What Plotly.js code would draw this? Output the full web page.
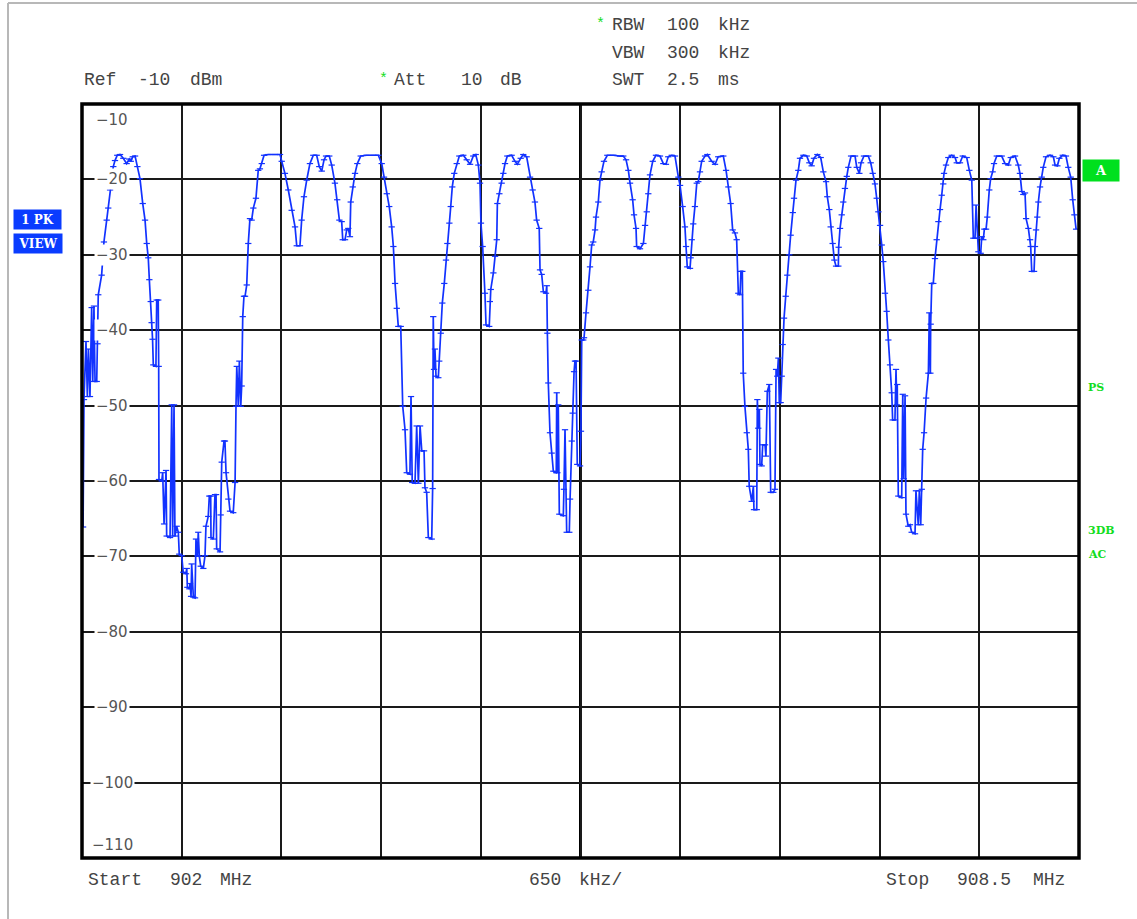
<!DOCTYPE html>
<html>
<head>
<meta charset="utf-8">
<script src="https://cdn.plot.ly/plotly-3.0.1.min.js"></script>
<style>
  html, body { margin: 0; padding: 0; background: #ffffff; }
  #chart { width: 1137px; height: 919px; }
</style>
</head>
<body>
<div id="chart"></div>
<script>
// Sweep settings
const sweepStartMHz = 902;
const sweepStopMHz = 908.5;
const spanPerDivMHz = 0.65;
const refLevelDbm = -10;
const bottomLevelDbm = -110;

// Trace 1 (peak detector), frequency in MHz
const freqMHz = [
  902.007,902.013,902.026,902.035,902.042,902.052,902.063,902.070,902.078,902.085,
  902.096,902.101,902.106,902.128,902.143,902.161,902.171,902.183,902.194,902.204,
  902.215,902.230,902.248,902.269,902.291,902.308,902.318,902.331,902.346,902.361,
  902.378,902.396,902.411,902.422,902.432,902.439,902.448,902.454,902.460,902.465,
  902.482,902.487,902.497,902.500,902.502,902.520,902.526,902.535,902.548,902.552,
  902.574,902.585,902.591,902.600,902.606,902.617,902.628,902.634,902.650,902.660,
  902.678,902.683,902.687,902.700,902.704,902.711,902.715,902.726,902.737,902.743,
  902.752,902.758,902.765,902.774,902.791,902.802,902.808,902.823,902.830,902.839,
  902.841,902.856,902.867,902.874,902.878,902.900,902.904,902.911,902.926,902.932,
  902.939,902.954,902.965,902.986,902.998,903.004,903.009,903.019,903.026,903.035,
  903.041,903.048,903.056,903.063,903.074,903.084,903.095,903.106,903.117,903.134,
  903.149,903.160,903.172,903.187,903.215,903.258,903.291,903.302,903.323,903.345,
  903.367,903.389,903.400,903.421,903.432,903.447,903.465,903.486,903.508,903.530,
  903.547,903.563,903.578,903.591,903.612,903.628,903.649,903.664,903.678,903.693,
  903.700,903.715,903.726,903.736,903.747,903.752,903.765,903.780,903.795,903.817,
  903.856,903.899,903.932,903.954,903.969,903.987,904.003,904.019,904.030,904.041,
  904.052,904.062,904.078,904.091,904.106,904.117,904.138,904.145,904.153,904.171,
  904.182,904.193,904.204,904.215,904.230,904.236,904.247,904.258,904.280,904.286,
  904.290,904.295,904.301,904.308,904.323,904.329,904.339,904.349,904.362,904.373,
  904.382,904.395,904.404,904.414,904.427,904.443,904.460,904.486,904.508,904.530,
  904.551,904.567,904.584,904.595,904.601,904.612,904.627,904.634,904.655,904.659,
  904.665,904.682,904.693,904.704,904.708,904.721,904.736,904.747,904.758,904.773,
  904.801,904.823,904.838,904.860,904.877,904.899,904.921,904.938,904.953,904.964,
  904.981,904.986,904.997,905.008,905.025,905.030,905.034,905.040,905.051,905.062,
  905.073,905.092,905.095,905.099,905.105,905.112,905.138,905.142,905.149,905.160,
  905.177,905.182,905.193,905.199,905.208,905.214,905.221,905.229,905.247,905.253,
  905.258,905.268,905.273,905.286,905.301,905.312,905.323,905.333,905.345,905.351,
  905.366,905.377,905.388,905.403,905.425,905.464,905.508,905.529,905.547,905.562,
  905.573,905.590,905.599,905.612,905.616,905.638,905.660,905.671,905.682,905.692,
  905.703,905.721,905.742,905.768,905.790,905.807,905.822,905.845,905.866,905.888,
  905.899,905.916,905.931,905.938,905.946,905.964,905.968,905.975,905.985,905.996,
  906.008,906.018,906.029,906.040,906.062,906.077,906.105,906.127,906.148,906.181,
  906.199,906.214,906.229,906.242,906.257,906.268,906.279,906.290,906.296,906.305,
  906.311,906.322,906.334,906.344,906.350,906.366,906.377,906.381,906.399,906.403,
  906.409,906.416,906.420,906.431,906.438,906.453,906.459,906.468,906.481,906.490,
  906.507,906.518,906.525,906.533,906.540,906.546,906.555,906.562,906.568,906.577,
  906.588,906.598,906.611,906.620,906.634,906.642,906.655,906.670,906.681,906.703,
  906.725,906.742,906.757,906.772,906.794,906.816,906.833,906.851,906.859,906.872,
  906.881,906.894,906.905,906.916,906.931,906.933,906.942,906.953,906.963,906.974,
  906.986,906.996,907.014,907.040,907.051,907.068,907.079,907.098,907.126,907.142,
  907.155,907.170,907.181,907.192,907.203,907.214,907.224,907.235,907.246,907.257,
  907.268,907.279,907.285,907.300,907.307,907.312,907.315,907.322,907.344,907.351,
  907.357,907.366,907.372,907.387,907.398,907.409,907.431,907.437,907.452,907.459,
  907.468,907.475,907.481,907.490,907.503,907.518,907.524,907.531,907.533,907.540,
  907.550,907.561,907.572,907.583,907.594,907.605,907.615,907.620,907.633,907.648,
  907.670,907.692,907.703,907.724,907.742,907.768,907.785,907.801,907.811,907.822,
  907.829,907.837,907.844,907.859,907.866,907.876,907.883,907.894,907.902,907.915,
  907.924,907.937,907.946,907.964,907.996,908.018,908.039,908.055,908.083,908.104,
  908.115,908.127,908.137,908.148,908.155,908.170,908.181,908.185,908.192,908.207,
  908.213,908.220,908.228,908.235,908.246,908.257,908.267,908.285,908.311,908.333,
  908.344,908.359,908.372,908.394,908.415,908.430,908.446,908.459,908.470,908.481
];

// Trace 1 level in dBm, one value per frequency point
const levelDbm = [
  -66.1,-49.2,-41.5,-48.8,-42.5,-48.8,-37.0,-46.8,-36.8,-46.8,
  -46.8,-41.8,-35.3,-32.7,-28.3,-25.4,-23.8,-21.4,-19.7,-18.3,
  -17.5,-16.8,-16.7,-17.2,-17.9,-17.3,-17.6,-17.0,-16.9,-18.3,
  -19.9,-23.2,-25.4,-28.5,-30.4,-33.3,-36.2,-39.0,-41.2,-44.6,
  -44.8,-36.0,-36.0,-44.8,-59.8,-60.0,-58.9,-65.7,-58.6,-67.3,
  -67.5,-49.9,-67.3,-49.9,-67.3,-66.0,-66.8,-69.7,-69.9,-72.1,
  -72.3,-71.6,-74.1,-74.3,-73.6,-75.3,-71.0,-75.4,-75.5,-67.7,
  -69.9,-66.8,-70.0,-71.3,-71.6,-69.9,-66.0,-64.7,-62.0,-62.0,
  -67.5,-67.7,-61.8,-61.8,-69.0,-69.4,-64.5,-57.5,-54.7,-54.7,
  -58.9,-62.4,-64.0,-64.2,-60.2,-50.1,-44.8,-50.1,-44.1,-50.1,
  -47.4,-38.2,-35.5,-35.5,-34.0,-28.5,-25.2,-25.4,-23.8,-22.5,
  -18.8,-18.6,-17.9,-16.8,-16.7,-16.7,-16.7,-17.6,-19.2,-21.4,
  -24.1,-26.3,-28.8,-28.8,-25.4,-22.3,-20.1,-17.9,-16.8,-16.8,
  -18.3,-18.9,-17.4,-16.9,-16.9,-18.1,-20.5,-22.7,-25.4,-25.6,
  -28.0,-28.0,-26.7,-26.5,-27.6,-23.0,-21.0,-19.2,-17.9,-16.9,
  -16.8,-16.8,-16.8,-17.9,-19.7,-21.9,-23.6,-26.3,-28.9,-33.8,
  -37.1,-39.5,-39.5,-50.1,-53.2,-58.9,-59.1,-48.8,-60.2,-60.3,
  -52.7,-60.3,-52.7,-56.0,-56.0,-60.9,-61.5,-67.5,-67.7,-61.0,
  -38.2,-45.2,-42.5,-46.1,-46.3,-44.1,-40.4,-36.4,-33.8,-30.7,
  -28.5,-25.8,-23.6,-21.0,-19.2,-17.9,-16.9,-16.8,-17.4,-18.0,
  -16.9,-16.7,-18.1,-20.5,-25.8,-28.9,-35.1,-39.3,-39.5,-36.2,
  -34.6,-32.4,-30.2,-28.0,-23.2,-21.9,-20.5,-19.2,-17.9,-16.9,
  -16.8,-17.6,-18.0,-17.2,-16.7,-17.0,-19.7,-21.4,-23.0,-25.4,
  -26.5,-32.0,-32.6,-34.9,-35.1,-34.1,-40.4,-47.0,-53.6,-56.3,
  -58.7,-58.9,-48.3,-58.9,-49.9,-64.4,-64.6,-61.1,-53.2,-66.8,
  -66.8,-62.4,-54.7,-51.0,-45.5,-44.1,-44.1,-57.8,-58.0,-53.4,
  -41.3,-41.3,-41.0,-37.7,-34.7,-31.6,-28.7,-28.3,-26.7,-25.0,
  -23.0,-20.1,-19.0,-17.6,-16.8,-16.8,-16.9,-16.9,-17.4,-18.8,
  -20.5,-22.7,-24.7,-26.5,-28.9,-29.2,-28.5,-26.1,-24.3,-21.9,
  -19.4,-17.6,-16.8,-16.9,-17.9,-18.0,-17.0,-16.8,-16.9,-19.7,
  -20.8,-23.6,-26.3,-28.9,-31.6,-31.8,-30.4,-28.0,-25.9,-23.6,
  -20.5,-20.3,-19.0,-17.6,-16.9,-16.7,-17.6,-18.0,-17.0,-16.9,
  -18.8,-21.0,-23.2,-26.7,-27.1,-28.0,-35.1,-35.3,-32.2,-32.2,
  -45.7,-50.1,-53.6,-55.8,-60.7,-62.7,-60.7,-63.8,-63.8,-49.2,
  -53.0,-50.5,-57.8,-58.0,-55.2,-55.2,-56.7,-48.1,-47.2,-61.5,
  -61.5,-61.1,-45.2,-46.1,-43.7,-49.6,-49.6,-46.1,-41.9,-38.4,
  -35.5,-32.7,-30.0,-27.4,-24.4,-22.5,-20.1,-18.8,-17.2,-16.8,
  -16.9,-17.8,-18.2,-17.2,-16.7,-17.1,-19.0,-20.3,-22.3,-24.0,
  -26.3,-28.5,-30.7,-31.5,-31.5,-29.0,-26.5,-24.7,-23.0,-21.2,
  -19.6,-18.4,-16.9,-16.9,-18.4,-19.2,-17.8,-16.9,-16.9,-17.8,
  -19.2,-20.6,-22.5,-24.3,-26.1,-28.7,-30.9,-35.1,-37.5,-41.3,
  -44.6,-48.3,-51.9,-51.9,-45.2,-49.9,-47.2,-62.0,-62.2,-48.5,
  -59.7,-48.7,-64.4,-66.0,-65.8,-66.8,-67.0,-61.3,-65.8,-61.3,
  -65.8,-61.1,-55.8,-53.6,-49.0,-45.7,-37.7,-45.7,-39.2,-33.8,
  -33.8,-30.5,-28.0,-25.6,-24.0,-22.1,-20.6,-19.2,-18.1,-17.1,
  -16.8,-17.1,-17.8,-17.8,-16.9,-17.1,-18.8,-20.1,-27.8,-27.8,
  -23.4,-27.8,-29.6,-29.8,-27.6,-28.0,-26.6,-26.6,-25.0,-21.4,
  -19.9,-19.0,-17.9,-16.9,-16.9,-17.9,-18.1,-17.1,-16.9,-18.1,
  -19.2,-21.6,-22.0,-21.8,-25.2,-26.5,-28.0,-28.9,-32.2,-32.2,
  -28.9,-26.7,-25.0,-23.0,-21.0,-19.7,-18.4,-17.0,-16.8,-17.0,
  -18.1,-18.2,-17.2,-16.8,-16.9,-18.4,-19.7,-22.7,-24.7,-26.6
];

// Level scale labels
const levelTicks = [-10, -20, -30, -40, -50, -60, -70, -80, -90, -100, -110];

// Screen annotations
const refText = ['Ref', '-10', 'dBm'];
const attText = ['Att', '10', 'dB'];
const bwRows = [['RBW', '100', 'kHz'], ['VBW', '300', 'kHz'], ['SWT', '2.5', 'ms']];
const startText = ['Start', '902', 'MHz'];
const spanText = ['650', 'kHz/'];
const stopText = ['Stop', '908.5', 'MHz'];
const traceBadges = ['1 PK', 'VIEW'];
const statusFlags = ['PS', '3DB', 'AC'];

// ---- page geometry (pixels) ----
const W = 1137, H = 919;
const M = { l: 82, r: 58, t: 104, b: 61 };
const plotW = W - M.l - M.r;
const plotH = H - M.t - M.b;
const px = x => (x - M.l) / plotW;          // page x -> paper x
const py = y => (H - M.b - y) / plotH;      // page y -> paper y

const TRACE_BLUE = '#1232ff';
const TEXT_GRAY = '#444444';
const GREEN = '#12dd22';
const monoFont = { family: 'Liberation Mono, DejaVu Sans Mono, monospace', size: 18, color: TEXT_GRAY };

const annotations = [];
function label(text, x, y, font, extra) {
  annotations.push(Object.assign({
    text: text, x: px(x), y: py(y), xref: 'paper', yref: 'paper',
    xanchor: 'left', yanchor: 'middle', showarrow: false, font: font
  }, extra || {}));
}

// header line: reference level and attenuation
[82, 136, 188].forEach((x, i) => label(refText[i], x, 80, monoFont));
label('*', 377, 79, Object.assign({}, monoFont, { color: GREEN, size: 15 }));
[392, 459, 498].forEach((x, i) => label(attText[i], x, 80, monoFont));

// bandwidth block
label('*', 594, 25, Object.assign({}, monoFont, { color: GREEN, size: 15 }));
bwRows.forEach((row, r) => {
  const y = [25, 53, 80][r];
  [610, 665, 716].forEach((x, i) => label(row[i], x, y, monoFont));
});

// footer: start / span per division / stop
[86, 168, 218].forEach((x, i) => label(startText[i], x, 880, monoFont));
[527, 577].forEach((x, i) => label(spanText[i], x, 880, monoFont));
[884, 955, 1031].forEach((x, i) => label(stopText[i], x, 880, monoFont));

// level scale written inside the graticule
const scaleFont = { family: 'DejaVu Sans, sans-serif', size: 15, color: '#555555' };
levelTicks.forEach(v => {
  let shift = 0;
  if (v === refLevelDbm) shift = -16;
  if (v === bottomLevelDbm) shift = 13;
  annotations.push({
    text: String(v).replace('-', '\u2212'),
    x: px(112), y: v, xref: 'paper', yref: 'y', yshift: shift,
    xanchor: 'center', yanchor: 'middle', showarrow: false,
    font: scaleFont, bgcolor: '#ffffff', borderpad: 1
  });
});

// trace badges on the left
const badgeFont = { family: 'DejaVu Serif, serif', size: 12, color: '#ffffff', weight: 'bold' };
[[37, 219.5, 47], [37.5, 243.5, 48]].forEach((b, i) => {
  annotations.push({
    text: '<b>' + traceBadges[i] + '</b>', x: px(b[0]), y: py(b[1]),
    xref: 'paper', yref: 'paper', xanchor: 'center', yanchor: 'middle',
    showarrow: false, font: badgeFont, bgcolor: '#0a3cff',
    width: b[2], height: 19, borderpad: 0
  });
});

// trace indicator box on the right
annotations.push({
  text: '<b>A</b>', x: px(1101), y: py(170), xref: 'paper', yref: 'paper',
  xanchor: 'center', yanchor: 'middle', showarrow: false,
  font: { family: 'DejaVu Serif, serif', size: 13, color: '#ffffff' },
  bgcolor: '#00e01e', width: 36, height: 21, borderpad: 0
});

// status flags on the right
const flagFont = { family: 'DejaVu Serif, serif', size: 11, color: GREEN };
[[387], [530], [554]].forEach((f, i) =>
  label('<b>' + statusFlags[i] + '</b>', 1086, f[0], flagFont));

const centerMHz = (sweepStartMHz + sweepStopMHz) / 2;

const shapes = [
  // outer light frame of the screen
  { type: 'line', xref: 'paper', yref: 'paper', x0: px(8), x1: px(W), y0: py(3), y1: py(3),
    line: { color: '#b8b8b8', width: 2 } },
  { type: 'line', xref: 'paper', yref: 'paper', x0: px(8), x1: px(8), y0: py(3), y1: py(H),
    line: { color: '#b8b8b8', width: 2 } },
  // emphasised center frequency line
  { type: 'line', xref: 'x', yref: 'paper', x0: centerMHz, x1: centerMHz, y0: 0, y1: 1,
    line: { color: '#000000', width: 3 }, layer: 'below' },
  // graticule border
  { type: 'rect', xref: 'paper', yref: 'paper', x0: 0, x1: 1, y0: 0, y1: 1,
    line: { color: '#000000', width: 3.5 } }
];

const trace = {
  type: 'scatter',
  mode: 'lines+markers',
  x: freqMHz,
  y: levelDbm,
  line: { color: TRACE_BLUE, width: 1.7 },
  marker: { symbol: 'line-ew', size: 4.5, color: TRACE_BLUE, line: { color: TRACE_BLUE, width: 1.2 } },
  hoverinfo: 'skip'
};

const layout = {
  width: W, height: H,
  margin: M,
  paper_bgcolor: '#ffffff',
  plot_bgcolor: '#ffffff',
  showlegend: false,
  hovermode: false,
  xaxis: {
    range: [sweepStartMHz, sweepStopMHz],
    tick0: sweepStartMHz, dtick: spanPerDivMHz,
    showgrid: true, gridcolor: '#1a1a1a', gridwidth: 2,
    zeroline: false, showticklabels: false, ticks: '', showline: false
  },
  yaxis: {
    range: [bottomLevelDbm, refLevelDbm],
    tick0: bottomLevelDbm, dtick: 10,
    showgrid: true, gridcolor: '#1a1a1a', gridwidth: 2,
    zeroline: false, showticklabels: false, ticks: '', showline: false
  },
  annotations: annotations,
  shapes: shapes
};

Plotly.newPlot('chart', [trace], layout, { displayModeBar: false, staticPlot: true });
</script>
</body>
</html>
